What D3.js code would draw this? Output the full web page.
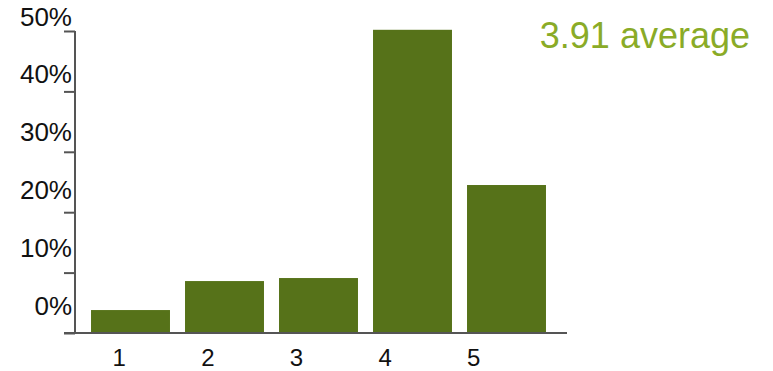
<!DOCTYPE html>
<html>
<head>
<meta charset="utf-8">
<script src="https://cdn.jsdelivr.net/npm/d3@7"></script>
<style>
  body { margin: 0; background: #fff; }
  svg text { font-family: "Liberation Sans", Arial, sans-serif; }
</style>
</head>
<body>
<div id="chart"></div>
<script>
// ratings and share of answers
var ratings = ["1", "2", "3", "4", "5"];
var shares = [3.8, 8.6, 9.1, 50.2, 24.5];
var yTicks = [0, 10, 20, 30, 40, 50];
var averageLabel = "3.91 average";

var width = 773, height = 371;

var svg = d3.select("#chart")
    .append("svg")
    .attr("width", width)
    .attr("height", height);

var y = d3.scaleLinear()
    .domain([0, 50])
    .range([333, 31]);

// the % labels are spaced a little tighter than the ticks
var yLab = d3.scaleLinear()
    .domain([0, 50])
    .range([315, 25.5]);

// bars
var x = d3.scaleBand()
    .domain(ratings)
    .range([83.5, 553.5])
    .paddingInner(0.16)
    .paddingOuter(0.08);

// tick labels sit on their own spacing
var xLab = d3.scaleBand()
    .domain(ratings)
    .range([75, 518]);

svg.selectAll(".bar")
    .data(ratings)
    .enter()
    .append("rect")
    .attr("class", "bar")
    .attr("x", function (d) { return x(d); })
    .attr("width", x.bandwidth())
    .attr("y", function (d, i) { return y(shares[i]); })
    .attr("height", function (d, i) { return y(0) - y(shares[i]); })
    .attr("fill", "#567219");

// y axis: ticks only, labels drawn separately
var yAxis = d3.axisLeft(y)
    .tickValues(yTicks)
    .tickSize(11)
    .tickFormat("");

var gy = svg.append("g")
    .attr("transform", "translate(75,0)")
    .call(yAxis);
gy.select(".domain").remove();
gy.selectAll(".tick line").attr("stroke", "#555").attr("stroke-width", 2);

svg.selectAll(".ylab")
    .data(yTicks)
    .enter()
    .append("text")
    .attr("class", "ylab")
    .attr("x", 72)
    .attr("y", function (d) { return yLab(d); })
    .attr("text-anchor", "end")
    .attr("fill", "#111")
    .style("font-size", "26px")
    .text(function (d) { return d + "%"; });

svg.append("line")
    .attr("x1", 75).attr("x2", 75)
    .attr("y1", y(50)).attr("y2", y(0))
    .attr("stroke", "#555")
    .attr("stroke-width", 2);

// x axis
svg.append("line")
    .attr("x1", 64).attr("x2", 567)
    .attr("y1", y(0)).attr("y2", y(0))
    .attr("stroke", "#555")
    .attr("stroke-width", 2);

svg.selectAll(".xlab")
    .data(ratings)
    .enter()
    .append("text")
    .attr("class", "xlab")
    .attr("x", function (d) { return xLab(d) + xLab.bandwidth() / 2; })
    .attr("y", 366)
    .attr("text-anchor", "middle")
    .attr("fill", "#111")
    .style("font-size", "24px")
    .text(function (d) { return d; });

// average label
svg.append("text")
    .attr("x", 750)
    .attr("y", 48)
    .attr("text-anchor", "end")
    .attr("fill", "#8aab27")
    .style("font-size", "36px")
    .text(averageLabel);
</script>
</body>
</html>
